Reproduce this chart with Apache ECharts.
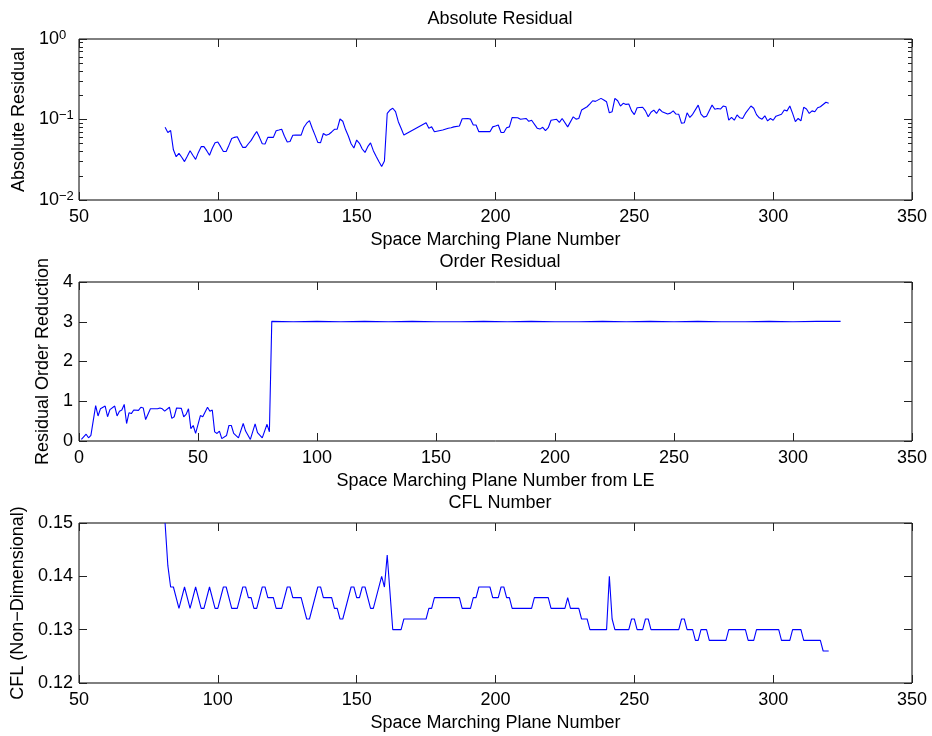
<!DOCTYPE html>
<html>
<head>
<meta charset="utf-8">
<script src="https://cdn.jsdelivr.net/npm/echarts@6/dist/echarts.min.js"></script>
<style>
  html, body { margin: 0; padding: 0; background: #fff; }
  #chart { width: 932px; height: 736px; }
</style>
</head>
<body>
<div id="chart"></div>
<script>
// Absolute residual per space-marching plane
const residualPlanes = [81,82,83,84,85,86,87,88,89,90,91,92,93,94,95,96,97,98,99,100,101,102,103,104,105,106,107,108,109,110,111,112,113,114,115,116,117,118,119,120,121,122,123,124,125,126,127,128,129,130,131,132,133,134,135,136,137,138,139,140,141,142,143,144,145,146,147,148,149,150,151,152,153,154,155,156,157,158,159,160,161,162,163,164,165,166,167,175,176,177,178,181,183,184,185,187,188,190,191,192,193,194,198,199,200,201,202,203,204,205,206,208,209,211,212,213,215,216,217,218,219,220,222,223,224,226,228,229,230,231,233,234,235,236,238,239,240,241,242,243,244,245,246,247,248,249,250,251,253,254,255,256,257,258,259,260,262,263,264,265,266,267,268,269,270,271,273,274,275,276,278,279,280,281,282,283,284,285,286,287,288,289,290,292,293,294,295,296,297,298,299,300,301,303,304,305,306,307,308,309,310,311,312,313,314,315,316,317,319,320];
const residualValues = [0.080,0.069,0.073,0.042,0.0345,0.038,0.034,0.030,0.035,0.041,0.036,0.032,0.039,0.046,0.046,0.041,0.036,0.044,0.0515,0.0525,0.046,0.040,0.040,0.048,0.058,0.060,0.061,0.052,0.045,0.045,0.050,0.055,0.063,0.071,0.060,0.050,0.0496,0.060,0.060,0.060,0.0726,0.074,0.0755,0.062,0.0525,0.0532,0.0636,0.064,0.064,0.064,0.080,0.090,0.0967,0.078,0.064,0.052,0.0515,0.067,0.0636,0.0656,0.070,0.0755,0.076,0.1015,0.095,0.075,0.0624,0.050,0.0443,0.0556,0.0506,0.043,0.039,0.046,0.0513,0.041,0.035,0.030,0.026,0.0305,0.119,0.131,0.138,0.125,0.094,0.078,0.064,0.091,0.078,0.081,0.0706,0.074,0.078,0.079,0.081,0.083,0.102,0.103,0.101,0.0855,0.0855,0.0706,0.0706,0.081,0.083,0.0855,0.069,0.069,0.079,0.081,0.106,0.105,0.1005,0.103,0.095,0.098,0.078,0.076,0.080,0.0726,0.079,0.098,0.1005,0.092,0.103,0.081,0.108,0.101,0.103,0.131,0.144,0.156,0.171,0.168,0.183,0.175,0.166,0.121,0.125,0.183,0.171,0.147,0.159,0.154,0.156,0.128,0.115,0.140,0.142,0.128,0.108,0.123,0.131,0.119,0.135,0.125,0.117,0.120,0.128,0.117,0.116,0.0897,0.091,0.121,0.106,0.116,0.151,0.117,0.107,0.110,0.151,0.134,0.137,0.135,0.147,0.144,0.098,0.106,0.098,0.114,0.105,0.103,0.119,0.147,0.138,0.115,0.105,0.101,0.111,0.096,0.103,0.098,0.110,0.116,0.131,0.128,0.147,0.119,0.094,0.103,0.096,0.142,0.135,0.119,0.128,0.125,0.140,0.144,0.164,0.159];

// Residual order reduction, counted from the leading edge
const orderPlanes = [1,3,4,5,7,8,9,11,12,13,15,16,17,18,19,20,21,22,23,25,26,27,28,30,33,34,35,36,38,39,40,41,43,44,45,46,47,48,49,51,52,54,55,56,57,58,59,60,62,63,64,65,67,69,70,72,74,75,77,79,80,81,90,100,110,120,130,140,150,160,170,180,190,200,210,220,230,240,250,260,270,280,290,300,310,320];
const orderValues = [0.04,0.17,0.08,0.14,0.89,0.63,0.81,0.88,0.61,0.79,0.88,0.63,0.75,0.78,0.92,0.44,0.71,0.69,0.78,0.77,0.85,0.83,0.54,0.81,0.81,0.83,0.81,0.75,0.85,0.57,0.61,0.83,0.82,0.61,0.67,0.81,0.31,0.39,0.19,0.64,0.61,0.85,0.75,0.78,0.23,0.19,0.25,0.06,0.14,0.39,0.39,0.19,0.08,0.44,0.25,0.04,0.43,0.21,0.08,0.42,0.23,3.01,3.00,3.01,3.00,3.01,3.00,3.01,3.00,3.00,3.01,3.00,3.01,3.00,3.00,3.01,3.00,3.01,3.00,3.01,3.00,3.00,3.01,3.00,3.01,3.01];

// CFL number per plane
const cflPlanes = [81,82,83,84,86,88,90,92,94,95,97,99,100,102,103,105,107,109,110,111,112,113,114,116,117,118,120,121,123,125,126,127,130,132,133,136,137,138,141,142,143,144,145,148,149,150,151,152,153,155,156,159,160,161,163,166,167,175,176,177,178,187,188,191,192,193,194,198,199,201,202,203,204,205,206,213,214,219,220,225,226,227,230,231,233,234,240,241,242,243,248,249,250,251,253,254,255,256,266,267,268,269,271,272,273,274,276,277,283,284,290,291,293,294,302,303,306,307,310,311,317,318,320];
const cflValues = [0.150,0.142,0.138,0.138,0.134,0.138,0.134,0.138,0.134,0.134,0.138,0.134,0.134,0.138,0.138,0.134,0.134,0.138,0.138,0.136,0.136,0.134,0.134,0.138,0.138,0.136,0.136,0.134,0.134,0.138,0.138,0.136,0.136,0.132,0.132,0.138,0.138,0.136,0.136,0.134,0.134,0.132,0.132,0.138,0.138,0.136,0.136,0.138,0.138,0.134,0.134,0.140,0.138,0.144,0.130,0.130,0.132,0.132,0.134,0.134,0.136,0.136,0.134,0.134,0.136,0.136,0.138,0.138,0.136,0.136,0.138,0.138,0.136,0.136,0.134,0.134,0.136,0.136,0.134,0.134,0.136,0.134,0.134,0.132,0.132,0.130,0.130,0.140,0.132,0.130,0.130,0.132,0.132,0.130,0.130,0.132,0.132,0.130,0.130,0.132,0.132,0.130,0.130,0.128,0.128,0.130,0.130,0.128,0.128,0.130,0.130,0.128,0.128,0.130,0.130,0.128,0.128,0.130,0.130,0.128,0.128,0.126,0.126];

// Minor tick mantissas for each decade of the log axis
const minorMantissas = [2,3,4,5,6,7,8,9];
const logDecades = [-2, -1];

const FONT = '"Liberation Sans", Arial, Helvetica, sans-serif';
const INK = '#000';
const TICK = '#222';
const LINE_BLUE = '#0000ff';

const tickStyle = { show: true, inside: true, length: 8, lineStyle: { color: TICK, width: 1 } };
const noLine = { show: false, onZero: false };

function bottomAxis(gridIndex, min, name) {
  return {
    type: 'value', gridIndex, position: 'bottom', min, max: 350, interval: 50,
    axisLine: noLine, splitLine: { show: false },
    axisTick: tickStyle,
    axisLabel: { color: INK, fontSize: 18, fontFamily: FONT, margin: 8 },
    name, nameLocation: 'middle', nameGap: 31,
    nameTextStyle: { color: INK, fontSize: 18, fontFamily: FONT }
  };
}
// Upper frame edge: same ticks as the bottom axis, with blank labels
function topAxis(gridIndex, min) {
  return {
    type: 'value', gridIndex, position: 'top', min, max: 350, interval: 50,
    axisLine: noLine, splitLine: { show: false },
    axisTick: tickStyle,
    axisLabel: { show: true, formatter: () => '', fontSize: 18, fontFamily: FONT }
  };
}
function linearY(gridIndex, position, min, max, interval, labels, name, nameGap, fmt) {
  const ax = {
    type: 'value', gridIndex, position, min, max, interval,
    axisLine: noLine, splitLine: { show: false },
    axisTick: tickStyle,
    axisLabel: labels ? { color: INK, fontSize: 18, fontFamily: FONT, margin: 6, formatter: fmt } : { show: false }
  };
  if (name) {
    ax.name = name; ax.nameLocation = 'middle'; ax.nameGap = nameGap;
    ax.nameTextStyle = { color: INK, fontSize: 18, fontFamily: FONT };
  }
  return ax;
}
function logY(position, labels) {
  const ax = {
    type: 'log', logBase: 10, gridIndex: 0, position, min: 0.01, max: 1,
    axisLine: noLine, splitLine: { show: false },
    axisTick: tickStyle,
    axisLabel: { show: false }
  };
  if (labels) {
    ax.axisLabel = {
      color: INK, fontFamily: FONT, align: 'left', margin: 40,
      formatter: v => {
        const e = Math.round(Math.log10(v));
        return '{b|10}{s|' + (e < 0 ? '\u2212' + (-e) : String(e)) + '}';
      },
      rich: {
        b: { fontSize: 18, lineHeight: 21, fontFamily: FONT, color: INK },
        s: { fontSize: 13, lineHeight: 13, verticalAlign: 'top', fontFamily: FONT, color: INK }
      }
    };
    ax.name = 'Absolute Residual';
    ax.nameLocation = 'middle';
    ax.nameGap = 48;
    ax.nameTextStyle = { color: INK, fontSize: 18, fontFamily: FONT };
  }
  return ax;
}
// Minor ticks of the log axis, drawn on a companion axis in decade units
const minorExponents = [];
logDecades.forEach(d => minorMantissas.forEach(m => minorExponents.push(d + Math.log10(m))));
function minorLogY(position) {
  return {
    type: 'value', gridIndex: 0, position, min: -2, max: 0,
    axisLine: noLine, splitLine: { show: false },
    axisLabel: { show: false },
    axisTick: { show: true, inside: true, length: 4, customValues: minorExponents, lineStyle: { color: TICK, width: 1 } }
  };
}

const titleStyle = { color: INK, fontSize: 18, fontWeight: 'normal', fontFamily: FONT };
const gridBase = { left: 79, right: 20, show: true, borderColor: INK, borderWidth: 1, backgroundColor: 'transparent' };

const pairs = (xs, ys) => xs.map((x, i) => [x, ys[i]]);
const lineSeries = (data, xi, yi) => ({
  type: 'line', data, xAxisIndex: xi, yAxisIndex: yi,
  symbol: 'none', showSymbol: false, clip: true,
  lineStyle: { color: LINE_BLUE, width: 1.1 }, itemStyle: { color: LINE_BLUE },
  emphasis: { disabled: true }, animation: false
});

const option = {
  backgroundColor: '#fff',
  animation: false,
  title: [
    { text: 'Absolute Residual', left: 495, top: 5, textAlign: 'center', textStyle: titleStyle },
    { text: 'Order Residual', left: 495, top: 248, textAlign: 'center', textStyle: titleStyle },
    { text: 'CFL Number', left: 495, top: 489, textAlign: 'center', textStyle: titleStyle }
  ],
  grid: [
    Object.assign({ top: 39, height: 161 }, gridBase),
    Object.assign({ top: 282, height: 159 }, gridBase),
    Object.assign({ top: 523, height: 160 }, gridBase)
  ],
  xAxis: [
    bottomAxis(0, 50, 'Space Marching Plane Number'), topAxis(0, 50),
    bottomAxis(1, 0, 'Space Marching Plane Number from LE'), topAxis(1, 0),
    bottomAxis(2, 50, 'Space Marching Plane Number'), topAxis(2, 50)
  ],
  yAxis: [
    logY('left', true), logY('right', false),
    minorLogY('left'), minorLogY('right'),
    linearY(1, 'left', 0, 4, 1, true, 'Residual Order Reduction', 27),
    linearY(1, 'right', 0, 4, 1, false),
    linearY(2, 'left', 0.12, 0.15, 0.01, true, 'CFL (Non\u2212Dimensional)', 49, v => v.toFixed(2)),
    linearY(2, 'right', 0.12, 0.15, 0.01, false)
  ],
  series: [
    lineSeries(pairs(residualPlanes, residualValues), 0, 0),
    lineSeries(pairs(orderPlanes, orderValues), 2, 4),
    lineSeries(pairs(cflPlanes, cflValues), 4, 6)
  ]
};

const chart = echarts.init(document.getElementById('chart'), null, { renderer: 'canvas' });
chart.setOption(option);
</script>
</body>
</html>
